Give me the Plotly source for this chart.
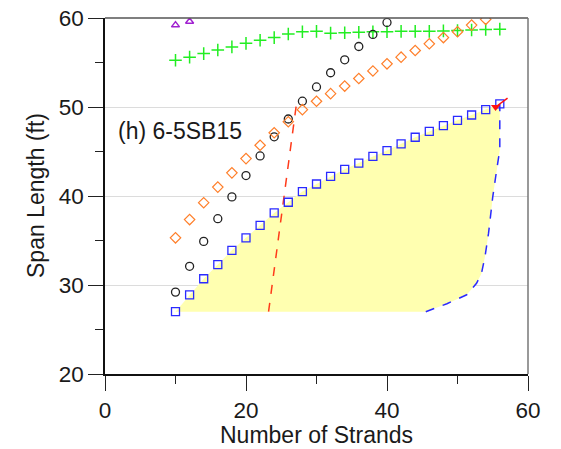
import plotly.graph_objects as go

# ---- data ----
sq_x = [10, 12, 14, 16, 18, 20, 22, 24, 26, 28, 30, 32, 34, 36, 38, 40, 42, 44, 46, 48, 50, 52, 54, 56]
sq_y = [27.0, 28.9, 30.7, 32.3, 33.9, 35.3, 36.7, 38.1, 39.3, 40.5, 41.35, 42.2, 43.0, 43.7, 44.45, 45.1, 45.85, 46.6, 47.25, 47.9, 48.5, 49.1, 49.7, 50.35]

dia_x = [10, 12, 14, 16, 18, 20, 22, 24, 26, 28, 30, 32, 34, 36, 38, 40, 42, 44, 46, 48, 50, 52, 54]
dia_y = [35.3, 37.35, 39.25, 41.0, 42.6, 44.2, 45.7, 47.1, 48.35, 49.7, 50.65, 51.5, 52.35, 53.2, 54.05, 54.85, 55.6, 56.35, 57.1, 57.8, 58.45, 59.2, 59.85]

circ_x = [10, 12, 14, 16, 18, 20, 22, 24, 26, 28, 30, 32, 34, 36, 38, 40]
circ_y = [29.2, 32.1, 34.9, 37.45, 39.9, 42.3, 44.5, 46.65, 48.65, 50.65, 52.25, 53.85, 55.3, 56.8, 58.15, 59.5]

plus_x = [10, 12, 14, 16, 18, 20, 22, 24, 26, 28, 30, 32, 34, 36, 38, 40, 42, 44, 46, 48, 50, 52, 54, 56]
plus_y = [55.25, 55.6, 56.0, 56.4, 56.75, 57.15, 57.5, 57.8, 58.2, 58.45, 58.5, 58.3, 58.35, 58.4, 58.45, 58.45, 58.5, 58.5, 58.5, 58.55, 58.6, 58.65, 58.7, 58.75]

tri_x = [10, 12]
tri_y = [59.2, 59.6]

blue_line_x = [45.5, 48.5, 51.3, 52.7, 53.4, 53.9, 54.4, 55.0, 55.55, 56.0, 56.0]
blue_line_y = [27.0, 27.9, 28.9, 30.2, 31.3, 33.2, 35.8, 39.9, 42.9, 45.2, 50.35]

red_line_x = [23.2, 27.2]
red_line_y = [27.0, 50.6]

red_mark_x = [55.4, 57.1]
red_mark_y = [50.0, 51.0]

base_y = 27.0
label_text = "(h) 6-5SB15"

FONT = "Liberation Sans, Arial, sans-serif"

fig = go.Figure()

# yellow feasible region
poly_x = sq_x + blue_line_x[::-1] + [sq_x[0]]
poly_y = sq_y + blue_line_y[::-1] + [base_y]
fig.add_trace(go.Scatter(x=poly_x, y=poly_y, mode="lines", fill="toself",
                         fillcolor="rgb(255,255,176)", line=dict(width=0),
                         hoverinfo="skip", showlegend=False))

fig.add_trace(go.Scatter(x=blue_line_x, y=blue_line_y, mode="lines",
                         line=dict(color="#2a2aff", width=1.5, dash="dash"),
                         showlegend=False))
fig.add_trace(go.Scatter(x=red_line_x, y=red_line_y, mode="lines",
                         line=dict(color="#ff3a1a", width=1.5, dash="dash"),
                         showlegend=False))

fig.add_trace(go.Scatter(x=plus_x, y=plus_y, mode="markers",
                         marker=dict(symbol="cross-thin", size=9, line=dict(color="#22ee22", width=1.5)),
                         showlegend=False))
fig.add_trace(go.Scatter(x=tri_x, y=tri_y, mode="markers",
                         marker=dict(symbol="triangle-up-open", size=7, color="#a020d0", line=dict(width=1.5)),
                         showlegend=False))
fig.add_trace(go.Scatter(x=circ_x, y=circ_y, mode="markers",
                         marker=dict(symbol="circle-open", size=8, color="#222222", line=dict(width=1.3)),
                         showlegend=False))
fig.add_trace(go.Scatter(x=dia_x, y=dia_y, mode="markers",
                         marker=dict(symbol="diamond-open", size=8, color="#ff7f2a", line=dict(width=1.2)),
                         showlegend=False))
fig.add_trace(go.Scatter(x=sq_x, y=sq_y, mode="markers",
                         marker=dict(symbol="square-open", size=8, color="#2a2aff", line=dict(width=1.3)),
                         showlegend=False))
fig.add_trace(go.Scatter(x=red_mark_x, y=red_mark_y, mode="lines",
                         line=dict(color="#ff1010", width=1.5), showlegend=False))
fig.add_trace(go.Scatter(x=red_mark_x[:1], y=red_mark_y[:1], mode="markers",
                         marker=dict(symbol="triangle-down", size=8, color="#ff1010"),
                         showlegend=False))

fig.update_layout(
    width=553, height=441,
    margin=dict(l=97, r=33, t=10, b=75, pad=0),
    plot_bgcolor="white", paper_bgcolor="white",
    font=dict(family=FONT, size=22, color="#1a1a1a"),
    showlegend=False,
    xaxis=dict(range=[0, 60], tick0=0, dtick=20, ticks="outside", ticklen=15,
               tickcolor="#222", tickwidth=1, showline=True, linecolor="#111",
               linewidth=1.5, showgrid=False, zeroline=False, automargin=False,
               ticklabeloverflow="allow", tickfont=dict(size=22.5),
               minor=dict(dtick=10, ticklen=8, ticks="outside", tickcolor="#222", showgrid=False)),
    yaxis=dict(range=[20, 60], tick0=20, dtick=10, ticks="outside", ticklen=15,
               tickcolor="#222", tickwidth=1, showline=True, linecolor="#111",
               linewidth=1.5, showgrid=True, gridcolor="#dcdcdc", gridwidth=1,
               zeroline=False, automargin=False, ticklabeloverflow="allow",
               tickfont=dict(size=22.5),
               minor=dict(dtick=5, ticklen=8, ticks="outside", tickcolor="#222", showgrid=False)),
    shapes=[
        dict(type="line", xref="paper", yref="paper", x0=0, x1=1, y0=1, y1=1,
             line=dict(color="#555", width=1.5)),
        dict(type="line", xref="paper", yref="paper", x0=1, x1=1, y0=0, y1=1,
             line=dict(color="#777", width=1.5)),
    ],
    annotations=[
        dict(text=label_text, x=1.5, y=47.3, xref="x", yref="y", xanchor="left",
             yanchor="middle", showarrow=False, font=dict(size=23)),
        dict(text="Number of Strands", xref="paper", yref="paper", x=0.5, y=0,
             yshift=-61, xanchor="center", yanchor="middle", showarrow=False,
             font=dict(size=23)),
        dict(text="Span Length (ft)", xref="paper", yref="paper", x=0, y=0.5,
             xshift=-69, xanchor="center", yanchor="middle", textangle=-90,
             showarrow=False, font=dict(size=23)),
    ],
)

fig.write_html("out.html")
